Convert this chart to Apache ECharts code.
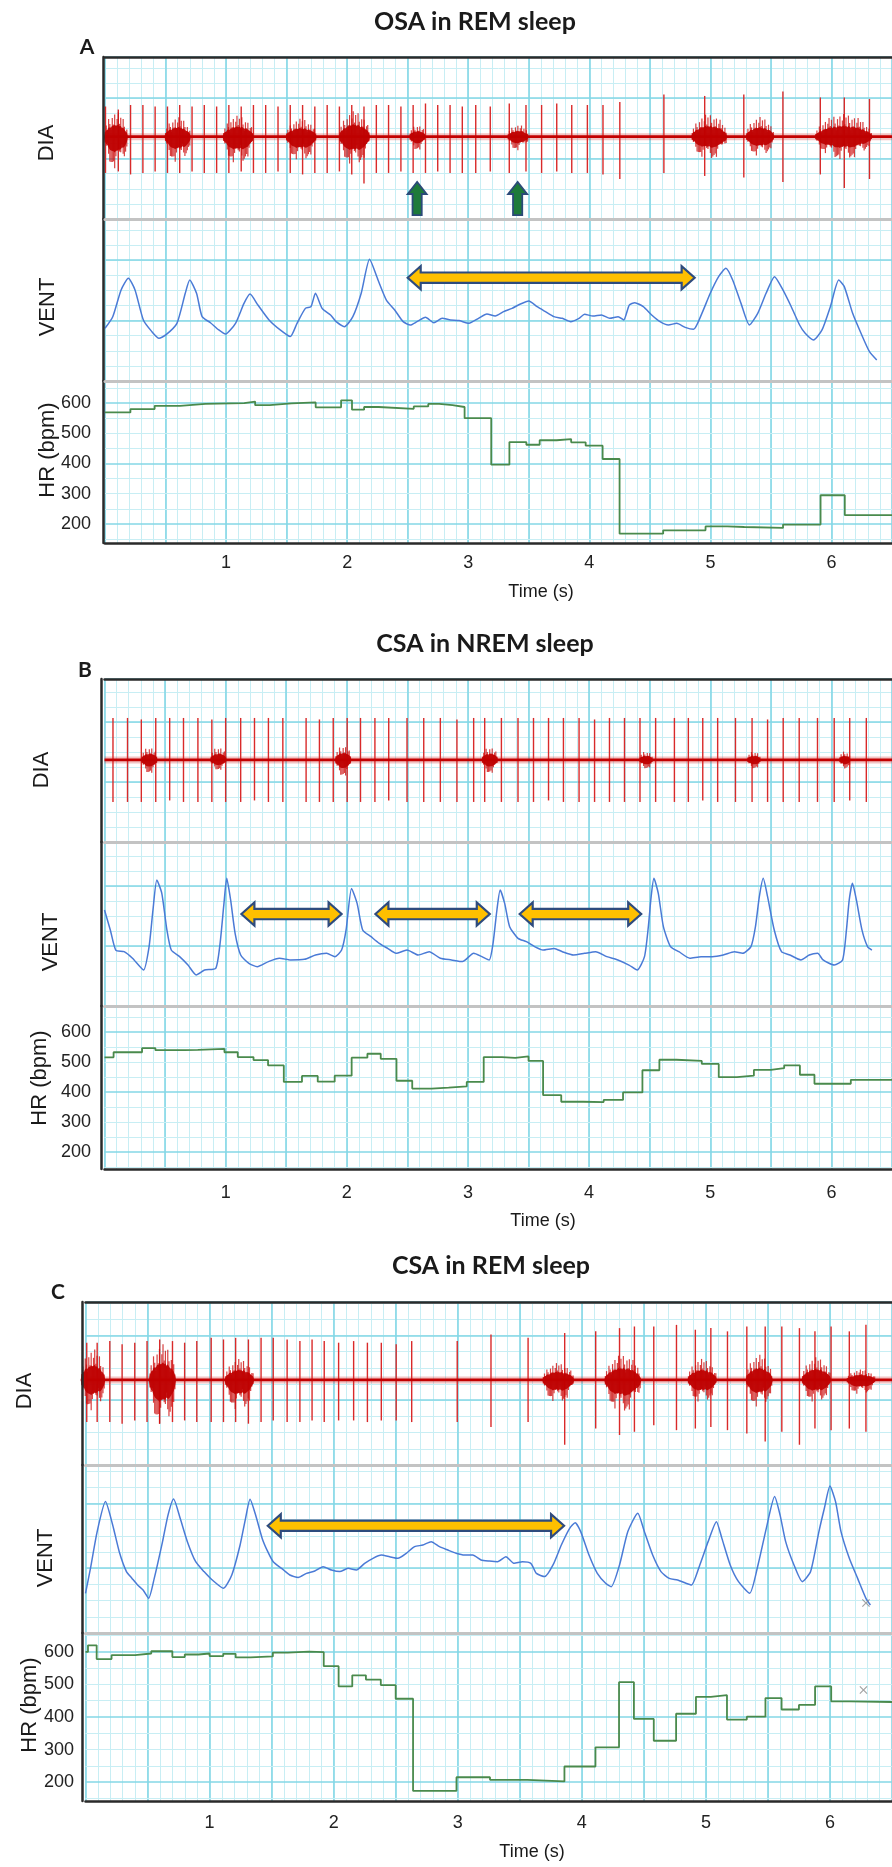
<!DOCTYPE html>
<html><head><meta charset="utf-8">
<script src="https://cdn.jsdelivr.net/npm/echarts@6/dist/echarts.min.js"></script>
<style>html,body{margin:0;padding:0;background:#fff}#c{width:892px;height:1867px}</style>
</head><body><div id="c"></div>
<script>
// ---------------- DATA ----------------
const timeTicks = [1, 2, 3, 4, 5, 6];
const hrTicks = [200, 300, 400, 500, 600];
const hrGridMajor = [200, 400, 600];
const hrGridMinor = [150, 250, 300, 350, 450, 500, 550, 650];

// Panel A : OSA in REM sleep
const hrA_t = [0,0.21,0.41,0.62,0.83,1.15,1.24,1.36,1.54,1.74,1.95,2.04,2.14,2.26,2.55,2.67,2.76,2.87,2.97,3.19,3.34,3.48,3.59,3.73,3.85,3.97,4.11,4.25,4.61,4.96,5.14,5.28,5.60,5.91,6.11];
const hrA_v = [569,580,591,597,600,605,593,599,602,586,609,578,587,581,589,597,593,587,550,396,471,462,477,481,470,459,415,168,179,192,190,187,198,295,229];
const ventA = [[0,3.49],[0.064,4.26],[0.133,6.03],[0.193,6.80],[0.248,6.03],[0.317,4.04],[0.387,3.27],[0.446,2.83],[0.502,3.05],[0.594,3.82],[0.663,5.81],[0.700,6.69],[0.756,5.81],[0.802,4.26],[0.871,3.86],[0.940,3.38],[0.995,3.11],[1.078,3.82],[1.148,5.14],[1.198,5.76],[1.263,5.03],[1.355,4.04],[1.447,3.38],[1.530,2.94],[1.586,3.82],[1.655,4.81],[1.701,4.92],[1.738,5.81],[1.793,4.81],[1.863,4.37],[1.909,3.93],[1.978,3.60],[2.047,4.26],[2.116,5.81],[2.185,8.06],[2.255,6.69],[2.324,5.36],[2.393,4.70],[2.462,3.93],[2.522,3.71],[2.577,3.93],[2.647,4.22],[2.716,3.86],[2.785,4.15],[2.854,4.04],[2.923,4.00],[3.006,3.82],[3.085,4.15],[3.154,4.44],[3.223,4.30],[3.292,4.59],[3.362,4.81],[3.431,5.10],[3.500,5.30],[3.569,4.92],[3.638,4.59],[3.708,4.26],[3.777,4.15],[3.846,3.93],[3.915,4.15],[3.961,4.42],[4.030,4.30],[4.100,4.37],[4.169,4.15],[4.238,4.26],[4.284,4.04],[4.330,5.03],[4.376,5.19],[4.446,4.92],[4.515,4.37],[4.584,3.93],[4.653,3.71],[4.722,3.82],[4.792,3.55],[4.861,3.42],[4.930,4.48],[4.999,5.81],[5.068,6.91],[5.128,7.46],[5.184,6.69],[5.253,5.14],[5.322,3.71],[5.391,4.48],[5.460,5.81],[5.530,6.91],[5.599,6.03],[5.668,4.92],[5.737,3.71],[5.783,3.16],[5.852,2.72],[5.922,3.38],[5.991,4.92],[6.060,6.69],[6.106,6.25],[6.175,4.48],[6.244,3.16],[6.314,1.94],[6.374,1.39]];
const diaA_base = 5.45;
const diaA_spikes = [[0.004,2.0,2.4],[0.110,1.8,2.3],[0.211,2.1,2.5],[0.313,2.1,2.4],[0.414,2.0,2.3],[0.516,2.0,2.4],[0.617,2.1,2.4],[0.719,2.0,2.3],[0.820,2.1,2.4],[0.922,2.0,2.4],[1.023,2.1,2.4],[1.125,2.0,2.3],[1.226,2.1,2.4],[1.327,2.1,2.4],[1.429,2.0,2.3],[1.530,2.1,2.4],[1.632,2.1,2.5],[1.733,2.0,2.4],[1.835,2.1,2.4],[1.936,2.0,2.3],[2.038,2.1,2.5],[2.139,2.0,3.1],[2.241,2.1,2.4],[2.342,2.1,2.4],[2.444,2.0,2.3],[2.545,2.1,2.4],[2.647,2.2,2.4],[2.748,2.1,2.3],[2.850,2.1,2.4],[2.951,2.0,2.4],[3.062,2.1,2.4],[3.182,2.0,2.3],[3.339,2.2,2.4],[3.477,2.1,2.3],[3.606,2.1,2.4],[3.731,2.2,2.3],[3.855,2.1,2.4],[3.984,2.1,2.4],[4.113,2.1,2.5],[4.252,2.3,2.8],[4.616,2.8,2.4],[4.953,2.7,2.6],[5.276,2.8,2.7],[5.599,3.0,3.0],[5.908,2.6,2.5],[6.106,2.6,3.4],[6.314,2.5,2.8]];
const diaA_bursts = [[0.09,0.10,1.65,2.1],[0.60,0.11,1.3,1.7],[1.10,0.13,1.4,1.8],[1.62,0.13,1.2,1.6],[2.06,0.13,1.7,1.9],[2.58,0.07,0.8,0.9],[3.41,0.09,0.8,0.9],[4.99,0.15,1.5,1.5],[5.41,0.12,1.3,1.3],[6.10,0.24,1.5,1.5]];
const upArrowsA = [[2.578,0.26,2.45],[3.408,0.26,2.45]];
const apneaA = [[2.50,4.87,6.84]];

// Panel B : CSA in NREM sleep
const hrB_t = [0,0.075,0.31,0.42,0.66,0.77,0.99,1.10,1.23,1.35,1.48,1.63,1.76,1.90,2.04,2.17,2.28,2.41,2.54,2.70,2.84,2.99,3.13,3.28,3.39,3.50,3.62,3.77,3.95,4.12,4.28,4.44,4.58,4.72,4.93,5.07,5.22,5.36,5.50,5.61,5.74,5.86,6.16];
const hrB_v = [515,532,546,539,540,543,532,516,506,488,433,453,434,454,514,527,510,437,411,414,418,433,516,513,518,503,389,367,366,373,398,472,507,503,493,449,454,473,479,488,457,427,440];
const ventB = [[0,6.40],[0.048,5.07],[0.093,3.73],[0.162,3.62],[0.231,3.18],[0.322,2.40],[0.368,3.96],[0.400,6.40],[0.432,8.40],[0.473,7.51],[0.515,5.07],[0.551,3.73],[0.620,3.29],[0.689,2.73],[0.757,2.07],[0.826,2.40],[0.918,2.51],[0.954,4.18],[0.986,6.84],[1.009,8.51],[1.041,7.07],[1.078,4.84],[1.124,3.40],[1.192,2.84],[1.261,2.62],[1.353,2.96],[1.444,3.18],[1.536,3.07],[1.650,3.11],[1.742,3.40],[1.833,3.51],[1.902,3.29],[1.957,3.73],[1.994,5.07],[2.039,7.84],[2.085,6.84],[2.131,5.07],[2.200,4.62],[2.268,4.18],[2.337,3.84],[2.406,3.51],[2.497,3.73],[2.589,3.40],[2.680,3.62],[2.772,3.18],[2.864,3.07],[2.955,2.96],[3.047,3.51],[3.115,3.29],[3.175,3.07],[3.207,4.18],[3.239,6.40],[3.266,7.73],[3.303,6.84],[3.344,5.29],[3.413,4.51],[3.482,4.29],[3.550,3.96],[3.619,3.73],[3.711,3.84],[3.779,3.62],[3.871,3.40],[3.962,3.51],[4.054,3.62],[4.146,3.29],[4.237,3.07],[4.329,2.73],[4.397,2.40],[4.457,3.29],[4.489,5.29],[4.512,7.29],[4.535,8.51],[4.571,7.51],[4.613,5.29],[4.672,3.96],[4.741,3.62],[4.832,3.18],[4.924,3.29],[5.016,3.29],[5.107,3.40],[5.199,3.62],[5.267,3.51],[5.336,3.96],[5.373,5.29],[5.405,7.29],[5.437,8.51],[5.473,7.29],[5.528,5.07],[5.588,3.62],[5.657,3.40],[5.748,3.07],[5.817,3.40],[5.886,3.51],[5.931,3.07],[6.023,2.73],[6.092,3.07],[6.124,5.07],[6.147,7.07],[6.174,8.18],[6.206,7.07],[6.252,5.07],[6.298,3.96],[6.334,3.73]];
const diaB_base = 5.47;
const diaB_spikes = [[0.070,2.8,2.8],[0.190,2.8,2.8],[0.304,2.7,2.8],[0.423,2.8,2.8],[0.538,2.8,2.7],[0.652,2.8,2.8],[0.771,2.8,2.8],[0.886,2.7,2.8],[1.000,2.8,2.8],[1.124,2.8,2.8],[1.238,2.8,2.7],[1.353,2.8,2.8],[1.472,2.8,2.8],[1.664,2.8,2.8],[1.774,2.7,2.8],[1.888,2.8,2.8],[2.003,2.8,2.8],[2.113,2.8,2.8],[2.232,2.8,2.8],[2.346,2.8,2.7],[2.497,2.8,2.8],[2.635,2.8,2.8],[2.772,2.8,2.8],[2.909,2.7,2.8],[3.047,2.8,2.8],[3.138,2.8,2.8],[3.276,2.8,2.8],[3.413,2.8,2.8],[3.541,2.8,2.8],[3.665,2.8,2.7],[3.788,2.8,2.8],[3.917,2.8,2.8],[4.045,2.7,2.8],[4.168,2.8,2.8],[4.292,2.8,2.8],[4.420,2.8,2.8],[4.549,2.8,2.8],[4.704,2.8,2.8],[4.819,2.8,2.8],[4.938,2.8,2.7],[5.061,2.8,2.8],[5.208,2.8,2.8],[5.345,2.8,2.8],[5.473,2.7,2.8],[5.602,2.8,2.8],[5.734,2.8,2.8],[5.885,2.8,2.8],[6.023,2.8,2.8],[6.151,2.8,2.7],[6.288,2.8,2.8]];
const diaB_bursts = [[0.37,0.07,0.9,0.9],[0.94,0.07,0.9,0.7],[1.97,0.07,1.0,1.1],[3.18,0.07,0.9,0.9],[4.47,0.06,0.6,0.6],[5.36,0.06,0.6,0.6],[6.11,0.05,0.6,0.6]];
const apneaB = [[1.13,1.957,6.13],[2.236,3.18,6.13],[3.427,4.43,6.13]];

// Panel C : CSA in REM sleep
const hrC_t = [0,0.02,0.09,0.21,0.40,0.53,0.70,0.80,0.91,1.00,1.11,1.21,1.33,1.51,1.63,1.80,1.92,2.04,2.15,2.26,2.38,2.50,2.64,2.99,3.26,3.56,3.86,4.11,4.30,4.42,4.58,4.76,4.92,5.04,5.17,5.33,5.48,5.61,5.75,5.88,6.01,6.16];
const hrC_v = [600,620,578,590,595,602,584,592,595,587,594,583,586,598,601,599,556,494,528,515,498,456,173,215,207,202,248,307,507,394,327,410,462,467,392,401,458,423,437,494,448,446];
const ventC = [[0,2.45],[0.040,3.99],[0.094,6.26],[0.161,8.11],[0.219,6.67],[0.272,5.02],[0.330,3.79],[0.375,3.37],[0.420,2.96],[0.464,2.65],[0.509,2.14],[0.554,3.37],[0.621,5.64],[0.665,7.28],[0.710,8.27],[0.763,7.08],[0.821,5.64],[0.888,4.40],[0.955,3.79],[1.022,3.27],[1.112,2.76],[1.179,3.58],[1.246,5.43],[1.290,7.08],[1.326,8.25],[1.371,7.28],[1.424,5.84],[1.469,5.02],[1.513,4.40],[1.580,3.99],[1.647,3.58],[1.714,3.42],[1.781,3.68],[1.848,3.83],[1.915,4.09],[1.982,3.89],[2.049,3.79],[2.116,3.99],[2.183,3.89],[2.250,4.30],[2.317,4.61],[2.384,4.81],[2.451,4.71],[2.518,4.61],[2.585,4.92],[2.652,5.33],[2.719,5.43],[2.786,5.64],[2.853,5.33],[2.920,5.12],[2.987,4.92],[3.054,4.81],[3.121,4.81],[3.188,4.51],[3.254,4.44],[3.321,4.40],[3.388,4.71],[3.455,4.30],[3.522,4.40],[3.589,4.30],[3.634,3.68],[3.701,3.48],[3.768,4.20],[3.835,5.43],[3.902,6.46],[3.946,6.81],[3.991,6.26],[4.058,4.81],[4.125,3.68],[4.192,3.07],[4.237,2.86],[4.304,4.20],[4.371,6.26],[4.451,7.39],[4.504,6.26],[4.571,4.81],[4.638,3.79],[4.705,3.37],[4.772,3.27],[4.839,3.07],[4.884,2.96],[4.951,4.20],[5.018,5.64],[5.085,6.87],[5.129,5.84],[5.196,4.20],[5.263,3.17],[5.353,2.45],[5.420,4.20],[5.487,6.46],[5.554,8.42],[5.598,7.28],[5.643,5.64],[5.710,4.20],[5.777,3.17],[5.844,3.79],[5.911,6.26],[5.955,7.70],[6.000,9.07],[6.045,8.11],[6.089,6.26],[6.156,4.61],[6.223,3.37],[6.290,2.14],[6.326,1.73]];
const diaC_base = 5.25;
const diaC_spikes = [[0.01,2.3,2.6],[0.094,2.3,2.6],[0.196,2.4,2.6],[0.295,2.2,2.7],[0.397,2.3,2.5],[0.496,2.4,2.6],[0.598,2.5,2.7],[0.701,2.4,2.6],[0.799,2.3,2.5],[0.897,2.4,2.6],[1.013,2.6,2.6],[1.112,2.5,2.6],[1.210,2.6,2.6],[1.313,2.5,2.7],[1.415,2.6,2.6],[1.513,2.6,2.5],[1.625,2.5,2.6],[1.728,2.4,2.6],[1.826,2.5,2.5],[1.924,2.4,2.6],[2.040,2.3,2.5],[2.161,2.4,2.5],[2.272,2.3,2.6],[2.384,2.3,2.5],[2.504,2.2,2.5],[2.629,2.4,2.6],[2.996,2.4,2.6],[3.268,2.8,2.9],[3.567,2.6,2.6],[3.862,2.9,4.0],[4.112,3.0,3.0],[4.304,3.2,3.4],[4.424,3.3,3.2],[4.580,3.3,2.8],[4.763,3.4,3.1],[4.915,3.1,3.0],[5.040,3.2,2.9],[5.174,3.0,3.1],[5.330,3.3,3.3],[5.478,3.3,3.8],[5.612,3.3,3.2],[5.754,3.2,4.0],[5.879,3.0,3.0],[6.009,3.3,3.1],[6.156,3.0,3.0],[6.290,3.4,3.2]];
const diaC_bursts = [[0.06,0.10,1.9,1.9],[0.62,0.11,2.2,2.8],[1.24,0.12,1.3,1.9],[3.81,0.13,1.05,1.4],[4.33,0.15,1.55,2.0],[4.97,0.12,1.3,1.4],[5.43,0.11,1.55,1.7],[5.89,0.12,1.4,1.4],[6.25,0.12,0.65,0.9]];
const apneaC = [[1.469,3.857,6.62]];
const cursorVentC = [[6.29,1.85]];
const cursorHrC = [[6.27,483]];

// ---------------- LAYOUT / STYLE ----------------
const XMAX = 6.5;
const MAJOR = '#84d7e6', MINOR = '#c8eef4';
const FONT = '"Liberation Sans", Arial, sans-serif';
const TFONT = 'Lato, "Open Sans", sans-serif';
const layout = [
  {left:105, pps:123.6, tops:[57,219,381], bottom:543, unit:15.1, hrMin:137, hrMax:673, frameOff:2, yMargin:12, xMargin:11,
   title:'OSA in REM sleep', tx:475, ty:22, letter:'A', lx:87, ly:47, dia:[47,143], vent:[48,307], hr:[48,450], time:[541,592]},
  {left:104.5, pps:124.5, tops:[679,842,1006], bottom:1169, unit:15, hrMin:143, hrMax:686, frameOff:3.5, yMargin:10, xMargin:15,
   title:'CSA in NREM sleep', tx:485, ty:644, letter:'B', lx:85, ly:670, dia:[42,770], vent:[51,942], hr:[40,1078], time:[543,1221]},
  {left:85.5, pps:127.6, tops:[1302,1465,1633], bottom:1801, unit:16.2, hrMin:142, hrMax:658, frameOff:3, yMargin:8.5, xMargin:13,
   title:'CSA in REM sleep', tx:491, ty:1266, letter:'C', lx:58, ly:1292, dia:[25,1391], vent:[46,1558], hr:[30,1705], time:[532,1852]}
];
const panelData = [
  {hrT:hrA_t, hrV:hrA_v, vent:ventA, base:diaA_base, spikes:diaA_spikes, bursts:diaA_bursts, apnea:apneaA, up:upArrowsA},
  {hrT:hrB_t, hrV:hrB_v, vent:ventB, base:diaB_base, spikes:diaB_spikes, bursts:diaB_bursts, apnea:apneaB, up:[]},
  {hrT:hrC_t, hrV:hrC_v, vent:ventC, base:diaC_base, spikes:diaC_spikes, bursts:diaC_bursts, apnea:apneaC, up:[], cv:cursorVentC, ch:cursorHrC}
];

const opt = {animation:false, backgroundColor:'#ffffff', grid:[], xAxis:[], yAxis:[], series:[], graphic:[]};
const hidden = {axisTick:{show:false}, axisLabel:{show:false}, axisLine:{show:false}, splitLine:{show:false}};
function addX(o){ opt.xAxis.push(Object.assign({type:'value'}, JSON.parse(JSON.stringify(hidden)), o)); return opt.xAxis.length-1; }
function addY(o){ opt.yAxis.push(Object.assign({type:'value'}, JSON.parse(JSON.stringify(hidden)), o)); return opt.yAxis.length-1; }
const split = (c,w) => ({show:true, lineStyle:{color:c, width:w, type:'solid'}});

// burst glyph: hatched vertical strokes under a spindle-shaped envelope (fixed texture pattern)
const JAG = [1, 0.55, 0.85, 0.4, 0.95, 0.62, 0.3, 0.8, 0.5, 0.9, 0.45, 0.72];
function burstItem(base){
  return function(params, api){
    const tc = api.value(0), hw = api.value(1), up = api.value(2), dn = api.value(3);
    const a = api.coord([tc-hw, base]), b = api.coord([tc+hw, base]);
    const y0 = a[1], yU = api.coord([tc, base+up])[1], yD = api.coord([tc, base-dn])[1];
    const n = Math.max(5, Math.round((b[0]-a[0])/1.2));
    const kids = [];
    const top = [], bot = [];
    for (let i = 0; i <= n; i++) {
      const f = i/n, x = a[0] + (b[0]-a[0])*f;
      const env = Math.pow(Math.sin(Math.PI*f), 0.55);
      const ju = JAG[i % JAG.length], jd = JAG[(i*5+3) % JAG.length];
      kids.push({type:'line', shape:{x1:x, y1:y0-(y0-yU)*env*ju, x2:x, y2:y0+(yD-y0)*env*jd},
        style:{stroke:'rgba(205,15,15,0.8)', lineWidth:1.2}});
      top.push([x, y0-(y0-yU)*env*0.5*(0.75+0.25*ju)]);
      bot.unshift([x, y0+(yD-y0)*env*0.5*(0.75+0.25*jd)]);
    }
    kids.push({type:'polygon', shape:{points:top.concat(bot)}, style:{fill:'rgba(190,0,0,0.92)'}});
    return {type:'group', children:kids};
  };
}
function spikeItem(base){
  return function(params, api){
    const t = api.value(0);
    const a = api.coord([t, base + api.value(1)]), b = api.coord([t, base - api.value(2)]);
    return {type:'line', shape:{x1:a[0], y1:a[1], x2:b[0], y2:b[1]}, style:{stroke:'#d92a2a', lineWidth:1.4}};
  };
}
function apneaItem(params, api){
  const a = api.coord([api.value(0), api.value(2)]), b = api.coord([api.value(1), api.value(2)]);
  const y = a[1], x1 = a[0], x2 = b[0], hl = 13, hh = 11.5, sh = 5.2;
  return {type:'polygon', shape:{points:[[x1,y],[x1+hl,y-hh],[x1+hl,y-sh],[x2-hl,y-sh],[x2-hl,y-hh],[x2,y],[x2-hl,y+hh],[x2-hl,y+sh],[x1+hl,y+sh],[x1+hl,y+hh]]},
          style:{fill:'#ffc000', stroke:'#2e4b7e', lineWidth:2.2, lineJoin:'miter'}};
}
function upItem(params, api){
  const b = api.coord([api.value(0), api.value(1)]), t = api.coord([api.value(0), api.value(2)]);
  const x = b[0], hw = 4.6, hh = 9.5, hl = 12;
  return {type:'polygon', shape:{points:[[x-hw,b[1]],[x-hw,t[1]+hl],[x-hh,t[1]+hl],[x,t[1]],[x+hh,t[1]+hl],[x+hw,t[1]+hl],[x+hw,b[1]]]},
          style:{fill:'#1e7a3a', stroke:'#2b4a78', lineWidth:1.8}};
}
const xSymbol = 'path://M0 1L1 0L5 4L9 0L10 1L6 5L10 9L9 10L5 6L1 10L0 9L4 5Z';

layout.forEach((L, p) => {
  const D = panelData[p];
  const H = [L.tops[1]-L.tops[0], L.tops[2]-L.tops[1], L.bottom-L.tops[2]];
  const ax = [];
  for (let s = 0; s < 3; s++) {
    const gi = opt.grid.length;
    opt.grid.push({left:L.left, top:L.tops[s], width:XMAX*L.pps, height:H[s]});
    const xm = addX({gridIndex:gi, position:'bottom', min:0, max:XMAX, interval:0.1, splitLine:split(MINOR,1), z:0});
    addX({gridIndex:gi, position:'bottom', min:0, max:XMAX, interval:0.5, splitLine:split(MAJOR,1.6), z:1});
    const isHR = s === 2;
    addX({gridIndex:gi, position:'bottom', min:0, max:XMAX, z:5,
      axisLine:{show:true, onZero:false, lineStyle:{color: isHR ? '#2a2a2a' : '#c3c3c3', width: isHR ? 2.5 : 3}},
      axisLabel: isHR ? {show:true, customValues:timeTicks, margin:L.xMargin, fontSize:18, color:'#222', fontFamily:FONT} : {show:false}});
    if (s === 0) addX({gridIndex:gi, position:'top', min:0, max:XMAX, z:5, axisLine:{show:true, onZero:false, lineStyle:{color:'#2a2a2a', width:2.5}}});
    let ym;
    if (!isHR) {
      const ymax = H[s] / L.unit;
      ym = addY({gridIndex:gi, position:'left', min:0, max:ymax, interval:1, splitLine:split(MINOR,1), z:0});
      addY({gridIndex:gi, position:'left', min:0, max:ymax, interval:4, splitLine:split(MAJOR,1.6), z:1});
      addY({gridIndex:gi, position:'left', offset:L.frameOff, min:0, max:ymax, z:5, axisLine:{show:true, onZero:false, lineStyle:{color:'#2a2a2a', width:2.5}}});
    } else {
      ym = addY({gridIndex:gi, position:'left', min:L.hrMin, max:L.hrMax});
      addY({gridIndex:gi, position:'left', offset:L.frameOff, min:L.hrMin, max:L.hrMax, z:5,
        axisLine:{show:true, onZero:false, lineStyle:{color:'#2a2a2a', width:2.5}},
        axisLabel:{show:true, customValues:hrTicks, margin:L.yMargin, fontSize:18, color:'#222', fontFamily:FONT}});
    }
    ax.push({x:xm, y:ym});
  }
  // DIA
  const dA = ax[0];
  opt.series.push({type:'line', xAxisIndex:dA.x, yAxisIndex:dA.y, data:[[0,D.base],[XMAX,D.base]], symbol:'none', silent:true, z:2,
    lineStyle:{color:'rgba(205,20,20,0.25)', width:7}});
  opt.series.push({type:'custom', xAxisIndex:dA.x, yAxisIndex:dA.y, data:D.spikes, renderItem:spikeItem(D.base), silent:true, z:3});
  opt.series.push({type:'line', xAxisIndex:dA.x, yAxisIndex:dA.y, data:[[0,D.base],[XMAX,D.base]], symbol:'none', silent:true, z:3,
    lineStyle:{color:'#c30000', width:2.8}});
  opt.series.push({type:'custom', xAxisIndex:dA.x, yAxisIndex:dA.y, data:D.bursts, renderItem:burstItem(D.base), silent:true, z:4});
  if (D.up.length) opt.series.push({type:'custom', xAxisIndex:dA.x, yAxisIndex:dA.y, data:D.up, renderItem:upItem, silent:true, z:4});
  // VENT
  const vA = ax[1];
  opt.series.push({type:'line', xAxisIndex:vA.x, yAxisIndex:vA.y, data:D.vent, symbol:'none', smooth:0.2, silent:true, z:3,
    lineStyle:{color:'#4a7ad6', width:1.5}});
  opt.series.push({type:'custom', xAxisIndex:vA.x, yAxisIndex:vA.y, data:D.apnea, renderItem:apneaItem, silent:true, z:4});
  if (D.cv) opt.series.push({type:'scatter', xAxisIndex:vA.x, yAxisIndex:vA.y, data:D.cv, symbol:xSymbol, symbolSize:8, itemStyle:{color:'#8a8a8a'}, silent:true, z:4});
  // HR
  const hA = ax[2];
  const hrData = D.hrT.map((t,i) => [t, D.hrV[i]]).concat([[XMAX, D.hrV[D.hrV.length-1]]]);
  const gridLines = hrGridMinor.filter(v => v > L.hrMin && v < L.hrMax).map(v => ({yAxis:v, lineStyle:{color:MINOR, width:1, type:'solid'}}))
    .concat(hrGridMajor.map(v => ({yAxis:v, lineStyle:{color:MAJOR, width:1.6, type:'solid'}})));
  opt.series.push({type:'line', xAxisIndex:hA.x, yAxisIndex:hA.y, data:hrData, step:'end', symbol:'none', silent:true, z:3,
    lineStyle:{color:'#4a8a4c', width:1.8},
    markLine:{silent:true, z:1, symbol:['none','none'], label:{show:false}, animation:false, data:gridLines}});
  if (D.ch) opt.series.push({type:'scatter', xAxisIndex:hA.x, yAxisIndex:hA.y, data:D.ch, symbol:xSymbol, symbolSize:8, itemStyle:{color:'#8a8a8a'}, silent:true, z:4});

  // texts
  const T = (x,y,text,font,rot) => opt.graphic.push({type:'text', x:x, y:y, rotation:rot||0, z:10,
    style:{text:text, font:font, fill:'#1a1a1a', align:'center', verticalAlign:'middle'}});
  T(L.tx, L.ty, L.title, 'bold 25px ' + TFONT);
  T(L.lx, L.ly, L.letter, 'bold 21px ' + TFONT);
  T(L.dia[0], L.dia[1], 'DIA', '22px ' + FONT, Math.PI/2);
  T(L.vent[0], L.vent[1], 'VENT', '22px ' + FONT, Math.PI/2);
  T(L.hr[0], L.hr[1], 'HR (bpm)', '22px ' + FONT, Math.PI/2);
  T(L.time[0], L.time[1], 'Time (s)', '18px ' + FONT);
});

const chart = echarts.init(document.getElementById('c'), null, {renderer:'canvas'});
chart.setOption(opt);
</script>
</body></html>
